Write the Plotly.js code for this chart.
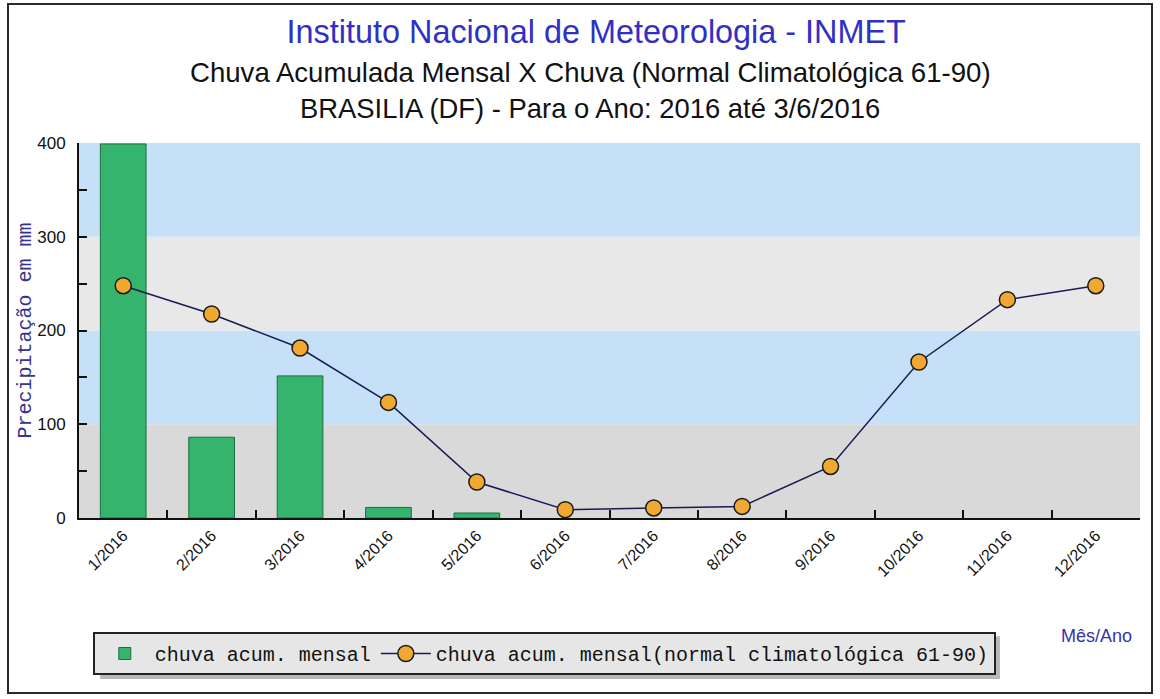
<!DOCTYPE html>
<html>
<head>
<meta charset="utf-8">
<script src="https://cdn.plot.ly/plotly-3.0.1.min.js"></script>
<style>
  html, body { margin: 0; padding: 0; background: #ffffff; }
  #chart { width: 1160px; height: 699px; position: relative; }
  #frame { position: absolute; left: 7px; top: 3px; width: 1142px; height: 687px;
           border: 2px solid #2a2a2a; pointer-events: none; }
</style>
</head>
<body>
<div style="position:relative;width:1160px;height:699px;">
  <div id="chart"></div>
  <div id="frame"></div>
</div>
<script>
// ---- data ----
const months = ['1/2016','2/2016','3/2016','4/2016','5/2016','6/2016',
                '7/2016','8/2016','9/2016','10/2016','11/2016','12/2016'];
const chuvaMensal = [399, 86.2, 151.6, 11.3, 5.3, null, null, null, null, null, null, null];
const chuvaNormal = [247.8, 217.6, 181.3, 123.3, 38.4, 8.9, 10.7, 12.4, 55.0, 166.4, 232.9, 247.8];
const yTicks = [0, 100, 200, 300, 400];
const seriesNames = ['chuva acum. mensal', 'chuva acum. mensal(normal climatológica 61-90)'];
const bandEdges = [0, 100, 200, 300, 400];
const bandColors = ['#d9d9d9', '#c6e0f7', '#e8e8e8', '#c6e0f7'];

const mono = '"Liberation Mono", "DejaVu Sans Mono", monospace';
const sans = '"Liberation Sans", Arial, sans-serif';

const traces = [
  {
    type: 'bar', name: seriesNames[0], x: months, y: chuvaMensal,
    marker: { color: '#35b46e', line: { color: '#1d6e40', width: 1 } },
    hoverinfo: 'x+y'
  },
  {
    type: 'scatter', mode: 'lines+markers', name: seriesNames[1], x: months, y: chuvaNormal,
    line: { color: '#1a1a55', width: 1.5 },
    marker: { symbol: 'circle', size: 16, color: '#f0a830', line: { color: '#1a1a1a', width: 1.5 } },
    hoverinfo: 'x+y'
  }
];

const shapes = [];
for (let i = 0; i < bandColors.length; i++) {
  shapes.push({ type: 'rect', xref: 'paper', yref: 'y', x0: 0, x1: 1,
    y0: bandEdges[i], y1: bandEdges[i + 1], fillcolor: bandColors[i],
    line: { width: 0 }, layer: 'below' });
}
// legend shadow
shapes.push({ type: 'rect', xref: 'paper', yref: 'paper', x0: 0.020, x1: 0.868, y0: -0.429, y1: -0.315,
  fillcolor: '#b8b8b8', line: { width: 0 }, layer: 'above' });

const layout = {
  width: 1160, height: 699,
  margin: { l: 79, r: 20, t: 143, b: 181 },
  paper_bgcolor: '#ffffff', plot_bgcolor: '#ffffff',
  showlegend: true,
  bargap: 0.483,
  title: {
    text: 'Instituto Nacional de Meteorologia - INMET',
    font: { family: sans, size: 32.4, color: '#3030c4' },
    xref: 'container', yref: 'container', x: 0.514, y: 0.954,
    xanchor: 'center', yanchor: 'middle'
  },
  xaxis: {
    type: 'category', range: [-0.5, 11.5], autorange: false,
    showline: true, linecolor: '#111', linewidth: 2,
    ticks: 'inside', tickson: 'boundaries', ticklen: 8, tickcolor: '#111', tickwidth: 1.5,
    tickangle: -45, tickfont: { family: sans, size: 16, color: '#111' },
    showgrid: false, zeroline: false, fixedrange: true,
    title: { text: '' }
  },
  yaxis: {
    range: [0, 400], tickvals: yTicks, ticktext: yTicks.map(String),
    showline: true, linecolor: '#111', linewidth: 2,
    ticks: 'inside', ticklen: 8, tickcolor: '#111', tickwidth: 1.5,
    minor: { dtick: 50, ticks: 'inside', ticklen: 8, tickcolor: '#111', tickwidth: 1.5, showgrid: false },
    ticklabelstandoff: 8,
    tickfont: { family: sans, size: 17, color: '#111' },
    showgrid: false, zeroline: false, fixedrange: true,
    title: { text: 'Precipitação em mm', standoff: 0,
      font: { family: mono, size: 20, color: '#34348c' } }
  },
  legend: {
    orientation: 'h', x: 0.013, xanchor: 'left', y: -0.304, yanchor: 'top',
    bgcolor: '#e6e6e6', bordercolor: '#222', borderwidth: 2,
    itemwidth: 50,
    font: { family: mono, size: 20, color: '#111' }
  },
  shapes: shapes,
  annotations: [
    { text: 'Chuva Acumulada Mensal X Chuva (Normal Climatológica 61-90)',
      xref: 'paper', yref: 'paper', x: 0.482, y: 1.189, xanchor: 'center', yanchor: 'middle',
      showarrow: false, font: { family: sans, size: 27.6, color: '#111' } },
    { text: 'BRASILIA (DF) - Para o Ano: 2016 até 3/6/2016',
      xref: 'paper', yref: 'paper', x: 0.482, y: 1.093, xanchor: 'center', yanchor: 'middle',
      showarrow: false, font: { family: sans, size: 27.4, color: '#111' } },
    { text: 'Mês/Ano',
      xref: 'paper', yref: 'paper', x: 0.959, y: -0.315, xanchor: 'center', yanchor: 'middle',
      showarrow: false, font: { family: sans, size: 18, color: '#3434a8' } }
  ]
};

Plotly.newPlot('chart', traces, layout, { displayModeBar: false, responsive: false });
</script>
</body>
</html>
